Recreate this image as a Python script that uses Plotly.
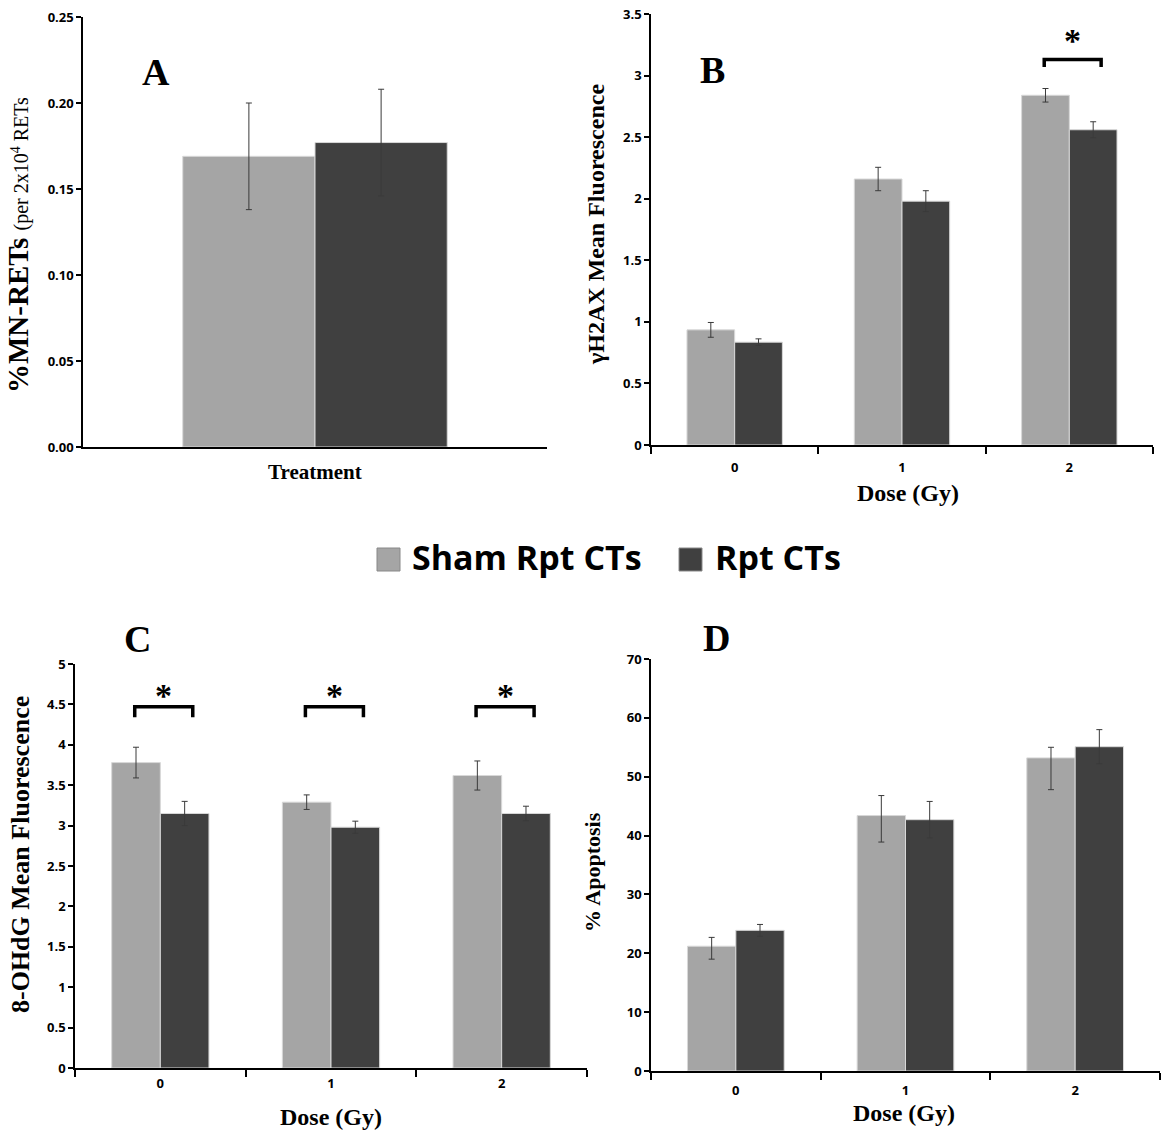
import plotly.graph_objects as go

W, H = 1163, 1134

series_names = ["Sham Rpt CTs", "Rpt CTs"]
colors = ["#A5A5A5", "#404040"]
dose_labels = ["0", "1", "2"]
dose_pos = [0, 1, 2]

# Panel A: %MN-RETs
mn_sham = [0.169]
mn_sham_err = [0.031]
mn_rpt = [0.177]
mn_rpt_err = [0.031]

# Panel B: gammaH2AX mean fluorescence
h2ax_sham = [0.935, 2.16, 2.84]
h2ax_sham_err = [0.06, 0.095, 0.055]
h2ax_rpt = [0.835, 1.98, 2.56]
h2ax_rpt_err = [0.027, 0.085, 0.065]

# Panel C: 8-OHdG mean fluorescence
ohdg_sham = [3.78, 3.29, 3.62]
ohdg_sham_err = [0.19, 0.09, 0.18]
ohdg_rpt = [3.15, 2.98, 3.15]
ohdg_rpt_err = [0.15, 0.075, 0.09]

# Panel D: % apoptosis
apo_sham = [21.2, 43.4, 53.2]
apo_sham_plus = [1.5, 3.4, 1.8]
apo_sham_minus = [2.2, 4.5, 5.4]
apo_rpt = [23.9, 42.7, 55.1]
apo_rpt_err = [1.0, 3.1, 2.9]

# Significance brackets (group index, leg level, top level, star level)
sig_B_groups = [2]
sig_B_levels = (3.07, 3.13, 3.33)
sig_C_groups = [0, 1, 2]
sig_C_levels = (4.34, 4.47, 4.68)

SERIF = "Liberation Serif"
SANS = "Open Sans"

fig = go.Figure()

def px_x(x):
    return x / W

def px_y(y):
    return 1 - y / H

err_style = dict(type="data", thickness=1, width=3, color="#3a3a3a")

def add_pair(xs, sham, sham_plus, sham_minus, rpt, rpt_plus, rpt_minus, xa, ya):
    fig.add_trace(go.Bar(x=xs, y=sham, name=series_names[0], marker_color=colors[0],
                         marker_line=dict(color="#d8d8d8", width=1),
                         error_y=dict(array=sham_plus, arrayminus=sham_minus, symmetric=False, **err_style),
                         xaxis=xa, yaxis=ya, showlegend=False, offsetgroup="s"))
    fig.add_trace(go.Bar(x=xs, y=rpt, name=series_names[1], marker_color=colors[1],
                         marker_line=dict(color="#d8d8d8", width=1),
                         error_y=dict(array=rpt_plus, arrayminus=rpt_minus, symmetric=False, **err_style),
                         xaxis=xa, yaxis=ya, showlegend=False, offsetgroup="r"))

add_pair([0], mn_sham, mn_sham_err, mn_sham_err, mn_rpt, mn_rpt_err, mn_rpt_err, "x", "y")
add_pair(dose_pos, h2ax_sham, h2ax_sham_err, h2ax_sham_err, h2ax_rpt, h2ax_rpt_err, h2ax_rpt_err, "x2", "y2")
add_pair(dose_pos, ohdg_sham, ohdg_sham_err, ohdg_sham_err, ohdg_rpt, ohdg_rpt_err, ohdg_rpt_err, "x3", "y3")
add_pair(dose_pos, apo_sham, apo_sham_plus, apo_sham_minus, apo_rpt, apo_rpt_err, apo_rpt_err, "x4", "y4")

annotations = []

def add_brackets(groups, levels, xa, ya):
    leg, top, star = levels
    for g in groups:
        xl, xr = g - 0.15, g + 0.19
        fig.add_trace(go.Scatter(x=[xl, xl, xr, xr], y=[leg, top, top, leg], mode="lines",
                                 line=dict(color="black", width=3.5), xaxis=xa, yaxis=ya,
                                 showlegend=False, hoverinfo="skip"))
        annotations.append(dict(x=g + 0.02, y=star, xref=xa, yref=ya, text="<b>*</b>", showarrow=False,
                                font=dict(family=SERIF, size=34, color="black"), yshift=-6))

add_brackets(sig_B_groups, sig_B_levels, "x2", "y2")
add_brackets(sig_C_groups, sig_C_levels, "x3", "y3")

tickfont = dict(family=SANS, size=13, color="black", weight="bold")
yax_common = dict(showline=True, linecolor="black", linewidth=1.5, ticks="outside", ticklen=5,
                  tickcolor="black", tickwidth=1.5, showgrid=False, zeroline=False, tickfont=tickfont,
                  automargin=False)

def xax_dose(standoff):
    return dict(range=[-0.5, 2.5], tickvals=dose_pos, ticktext=dose_labels, ticks="", showline=True,
                linecolor="black", linewidth=1.5, showgrid=False, zeroline=False, tickfont=tickfont,
                automargin=False, ticklabelstandoff=standoff,
                minor=dict(tickvals=[-0.5, 0.5, 1.5, 2.5], ticks="outside", ticklen=7,
                           tickcolor="black", tickwidth=1.5, showgrid=False))

domA_x = [px_x(83), px_x(547)]
domA_y = [px_y(447), px_y(17)]
domB_x = [px_x(651), px_x(1153)]
domB_y = [px_y(445), px_y(14)]
domC_x = [px_x(75), px_x(587)]
domC_y = [px_y(1068), px_y(664)]
domD_x = [px_x(651), px_x(1160)]
domD_y = [px_y(1071), px_y(659)]

fig.update_layout(
    width=W, height=H, margin=dict(l=0, r=0, t=0, b=0, pad=0, autoexpand=False),
    paper_bgcolor="white", plot_bgcolor="white",
    barmode="group", bargap=0.43, bargroupgap=0,
    xaxis=dict(domain=domA_x, anchor="y", range=[-0.5, 0.5], showticklabels=False, ticks="",
               showline=True, linecolor="black", linewidth=1.5, showgrid=False, zeroline=False,
               automargin=False),
    yaxis=dict(domain=domA_y, anchor="x", range=[0, 0.25], dtick=0.05, tickformat=".2f", **yax_common),
    xaxis2=dict(domain=domB_x, anchor="y2", **xax_dose(10)),
    yaxis2=dict(domain=domB_y, anchor="x2", range=[0, 3.5], dtick=0.5, **yax_common),
    xaxis3=dict(domain=domC_x, anchor="y3", **xax_dose(3)),
    yaxis3=dict(domain=domC_y, anchor="x3", range=[0, 5], dtick=0.5, **yax_common),
    xaxis4=dict(domain=domD_x, anchor="y4", **xax_dose(7)),
    yaxis4=dict(domain=domD_y, anchor="x4", range=[0, 70], dtick=10, **yax_common),
)

def ann(x, y, text, size, angle=0, family=SERIF, xanchor="center"):
    annotations.append(dict(x=px_x(x), y=px_y(y), xref="paper", yref="paper", text=text,
                            showarrow=False, textangle=angle, xanchor=xanchor, yanchor="middle",
                            font=dict(family=family, size=size, color="black")))

# Panel letters
ann(156, 72, "<b>A</b>", 38)
ann(712, 70, "<b>B</b>", 38)
ann(137, 639, "<b>C</b>", 38)
ann(716, 638, "<b>D</b>", 38)

# Axis titles
ann(18, 245, "<b>%MN-RETs</b> <span style='font-size:20px'>(per 2x10<sup>4</sup> RETs</span>", 29, angle=-90)
ann(315, 472, "<b>Treatment</b>", 21)
ann(596, 225, "<b>\u03b3H2AX Mean Fluorescence</b>", 24, angle=-90)
ann(908, 493, "<b>Dose (Gy)</b>", 24)
ann(20, 855, "<b>8-OHdG Mean Fluorescence</b>", 26, angle=-90)
ann(331, 1117, "<b>Dose (Gy)</b>", 24)
ann(592, 872, "<b>% Apoptosis</b>", 22, angle=-90)
ann(904, 1113, "<b>Dose (Gy)</b>", 24)

# Legend (manual, centred between the two rows)
shapes = [
    dict(type="rect", xref="paper", yref="paper", x0=px_x(377), x1=px_x(400), y0=px_y(571), y1=px_y(548),
         fillcolor=colors[0], line=dict(color="#888888", width=1)),
    dict(type="rect", xref="paper", yref="paper", x0=px_x(679), x1=px_x(702), y0=px_y(571), y1=px_y(548),
         fillcolor=colors[1], line=dict(color="#888888", width=1)),
]
ann(410, 557, "<b>" + series_names[0] + "</b>", 34, family=SANS, xanchor="left")
ann(713, 557, "<b>" + series_names[1] + "</b>", 34, family=SANS, xanchor="left")

fig.update_layout(annotations=annotations, shapes=shapes)

fig.write_html("out.html")
